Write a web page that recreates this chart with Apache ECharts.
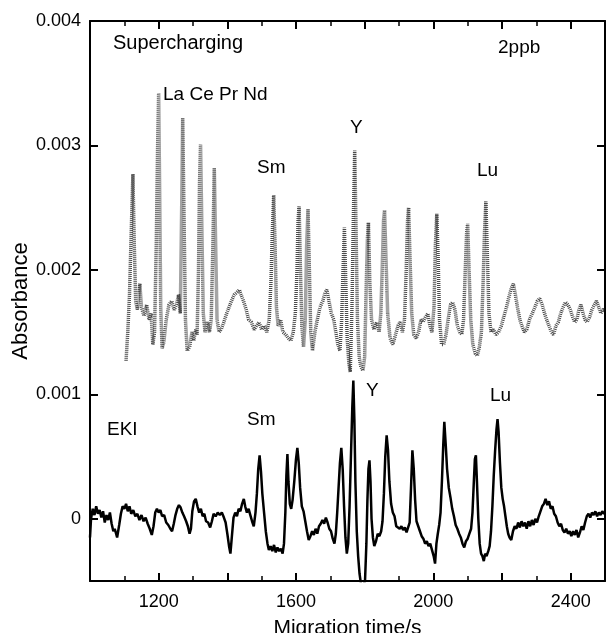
<!DOCTYPE html>
<html>
<head>
<meta charset="utf-8">
<script src="https://cdn.jsdelivr.net/npm/echarts@6/dist/echarts.min.js"></script>
<style>
html,body{margin:0;padding:0;background:#fff;}
#chart{width:610px;height:633px;}
</style>
</head>
<body>
<div id="chart"></div>
<script>
// Supercharging trace (migration time / s, absorbance)
const scTime = [1105,1110,1115,1120,1125,1129,1133,1138,1145,1150,1157,1165,1172,1178,1183,1188,1193,1197,1200,1203,1206,1210,1215,1222,1230,1238,1245,1252,1258,1263,1267,1270,1274,1278,1283,1290,1297,1302,1308,1312,1316,1319,1322,1326,1330,1335,1342,1348,1353,1358,1362,1366,1370,1376,1382,1390,1398,1405,1412,1420,1428,1435,1440,1447,1455,1462,1470,1478,1485,1492,1500,1508,1515,1522,1527,1531,1535,1539,1543,1548,1555,1562,1570,1578,1585,1592,1598,1603,1606,1609,1613,1617,1622,1627,1631,1635,1639,1643,1648,1655,1662,1670,1678,1685,1690,1696,1703,1710,1716,1722,1728,1733,1737,1741,1745,1749,1754,1758,1763,1767,1771,1775,1779,1784,1789,1795,1800,1804,1808,1811,1815,1820,1827,1835,1842,1847,1851,1855,1858,1862,1867,1874,1882,1890,1897,1903,1910,1916,1921,1925,1928,1932,1937,1943,1950,1957,1964,1970,1977,1984,1990,1996,2002,2006,2010,2014,2018,2024,2030,2037,2043,2050,2056,2063,2070,2077,2083,2088,2093,2097,2100,2104,2109,2115,2122,2128,2134,2140,2145,2149,2153,2157,2162,2168,2175,2182,2190,2198,2205,2213,2220,2227,2233,2239,2245,2252,2258,2265,2272,2280,2288,2296,2303,2310,2317,2324,2330,2337,2344,2350,2357,2364,2371,2378,2385,2392,2399,2406,2412,2418,2424,2430,2436,2442,2448,2455,2462,2469,2475,2482,2488,2494,2500];
const scAbs = [0.00127,0.00150,0.00180,0.00230,0.00277,0.00220,0.00175,0.00168,0.00189,0.00170,0.00163,0.00172,0.00160,0.00165,0.00140,0.00150,0.00220,0.00300,0.00342,0.00260,0.00170,0.00137,0.00142,0.00160,0.00172,0.00175,0.00168,0.00172,0.00180,0.00165,0.00250,0.00322,0.00240,0.00160,0.00135,0.00138,0.00150,0.00143,0.00152,0.00148,0.00200,0.00270,0.00301,0.00230,0.00165,0.00150,0.00158,0.00150,0.00160,0.00220,0.00282,0.00220,0.00160,0.00150,0.00152,0.00158,0.00165,0.00170,0.00175,0.00180,0.00182,0.00184,0.00180,0.00175,0.00168,0.00160,0.00158,0.00152,0.00155,0.00158,0.00152,0.00155,0.00150,0.00160,0.00190,0.00230,0.00260,0.00220,0.00170,0.00155,0.00160,0.00150,0.00148,0.00145,0.00143,0.00150,0.00165,0.00200,0.00240,0.00251,0.00200,0.00155,0.00138,0.00160,0.00220,0.00249,0.00200,0.00150,0.00135,0.00150,0.00160,0.00170,0.00175,0.00182,0.00184,0.00175,0.00165,0.00160,0.00150,0.00140,0.00135,0.00160,0.00200,0.00234,0.00190,0.00145,0.00125,0.00118,0.00170,0.00240,0.00296,0.00230,0.00160,0.00130,0.00122,0.00119,0.00130,0.00180,0.00225,0.00238,0.00190,0.00160,0.00152,0.00158,0.00150,0.00165,0.00200,0.00240,0.00248,0.00210,0.00165,0.00145,0.00140,0.00148,0.00155,0.00158,0.00150,0.00160,0.00200,0.00240,0.00250,0.00210,0.00165,0.00148,0.00145,0.00150,0.00160,0.00158,0.00162,0.00165,0.00155,0.00150,0.00170,0.00220,0.00245,0.00210,0.00160,0.00140,0.00140,0.00148,0.00160,0.00172,0.00174,0.00168,0.00155,0.00150,0.00148,0.00160,0.00200,0.00230,0.00237,0.00200,0.00160,0.00140,0.00133,0.00131,0.00138,0.00150,0.00190,0.00230,0.00255,0.00215,0.00165,0.00150,0.00152,0.00148,0.00150,0.00155,0.00162,0.00170,0.00178,0.00185,0.00189,0.00180,0.00170,0.00160,0.00155,0.00150,0.00152,0.00160,0.00165,0.00170,0.00175,0.00177,0.00172,0.00165,0.00160,0.00155,0.00150,0.00148,0.00155,0.00158,0.00165,0.00170,0.00174,0.00172,0.00168,0.00162,0.00158,0.00160,0.00168,0.00172,0.00165,0.00160,0.00158,0.00162,0.00168,0.00172,0.00175,0.00170,0.00165,0.00168,0.00168];

// EKI trace
const ekiTime = [1000,1003,1008,1013,1018,1023,1028,1033,1038,1043,1048,1053,1058,1063,1068,1072,1079,1085,1090,1095,1100,1105,1110,1115,1120,1126,1132,1138,1144,1150,1156,1162,1168,1174,1180,1185,1190,1195,1200,1205,1210,1216,1222,1228,1234,1239,1244,1249,1254,1259,1264,1269,1274,1280,1285,1290,1294,1298,1303,1308,1313,1318,1323,1328,1333,1338,1344,1350,1355,1360,1366,1372,1378,1384,1390,1395,1400,1405,1409,1413,1418,1423,1428,1433,1438,1443,1448,1452,1457,1462,1467,1472,1477,1482,1486,1490,1494,1498,1502,1507,1512,1517,1521,1526,1531,1536,1541,1546,1551,1556,1561,1565,1569,1572,1575,1578,1582,1586,1590,1595,1600,1604,1608,1612,1617,1622,1627,1632,1637,1642,1647,1652,1657,1662,1667,1672,1677,1682,1687,1692,1697,1702,1707,1712,1716,1720,1724,1728,1732,1736,1740,1744,1748,1752,1756,1760,1764,1767,1770,1773,1777,1781,1785,1789,1793,1797,1801,1805,1808,1811,1814,1817,1820,1824,1828,1833,1838,1843,1848,1852,1856,1860,1864,1868,1872,1877,1882,1887,1892,1897,1902,1907,1912,1917,1922,1927,1931,1935,1939,1943,1947,1951,1956,1961,1966,1971,1976,1981,1986,1991,1996,2001,2005,2009,2013,2017,2021,2025,2029,2032,2036,2040,2045,2050,2055,2060,2065,2070,2075,2080,2085,2090,2095,2100,2105,2110,2114,2118,2121,2124,2127,2131,2135,2139,2143,2147,2151,2155,2160,2164,2168,2172,2176,2180,2184,2187,2190,2194,2198,2202,2206,2210,2214,2218,2222,2227,2232,2237,2242,2247,2252,2257,2262,2267,2272,2277,2282,2287,2292,2297,2302,2307,2312,2317,2322,2327,2332,2337,2342,2347,2352,2357,2362,2367,2372,2377,2382,2387,2392,2397,2402,2407,2412,2417,2422,2427,2432,2437,2442,2447,2452,2457,2462,2467,2472,2477,2482,2487,2492,2497,2500];
const ekiAbs = [-0.00015,0.00000,0.00008,0.00003,0.00010,0.00004,0.00007,0.00001,0.00006,-0.00003,0.00003,-0.00001,0.00005,-0.00004,-0.00010,-0.00008,-0.00015,-0.00005,0.00004,0.00010,0.00008,0.00012,0.00006,0.00010,0.00004,0.00007,0.00002,0.00004,-0.00001,0.00003,-0.00002,0.00001,-0.00004,-0.00008,-0.00013,-0.00006,0.00005,0.00008,0.00005,0.00007,0.00002,0.00003,-0.00003,-0.00005,-0.00008,-0.00010,-0.00004,0.00003,0.00008,0.00011,0.00009,0.00005,0.00002,-0.00002,-0.00006,-0.00012,-0.00008,0.00006,0.00014,0.00016,0.00010,0.00005,0.00008,0.00002,0.00004,-0.00002,-0.00003,-0.00007,-0.00002,0.00004,0.00002,0.00005,0.00003,0.00005,0.00001,-0.00003,-0.00012,-0.00022,-0.00028,-0.00015,0.00001,0.00005,0.00002,0.00008,0.00006,0.00012,0.00016,0.00010,0.00005,0.00008,0.00003,-0.00002,-0.00006,0.00005,0.00020,0.00040,0.00051,0.00038,0.00020,0.00005,-0.00010,-0.00020,-0.00025,-0.00022,-0.00026,-0.00021,-0.00027,-0.00023,-0.00026,-0.00024,-0.00028,-0.00020,0.00005,0.00035,0.00052,0.00030,0.00012,0.00008,0.00015,0.00030,0.00048,0.00057,0.00045,0.00025,0.00010,0.00006,-0.00002,-0.00010,-0.00017,-0.00014,-0.00010,-0.00013,-0.00008,-0.00012,-0.00006,-0.00004,-0.00001,-0.00004,0.00001,-0.00003,-0.00008,-0.00010,-0.00016,-0.00020,-0.00012,0.00005,0.00025,0.00045,0.00057,0.00040,0.00010,-0.00015,-0.00028,-0.00020,0.00010,0.00050,0.00090,0.00111,0.00080,0.00030,-0.00010,-0.00030,-0.00044,-0.00052,-0.00056,-0.00056,-0.00050,-0.00020,0.00015,0.00040,0.00047,0.00030,0.00000,-0.00015,-0.00022,-0.00018,-0.00012,-0.00014,-0.00010,-0.00002,0.00020,0.00050,0.00067,0.00055,0.00030,0.00012,0.00005,0.00002,-0.00006,-0.00005,-0.00008,-0.00006,-0.00009,-0.00007,-0.00011,-0.00012,-0.00003,0.00025,0.00055,0.00040,0.00015,-0.00002,-0.00006,-0.00010,-0.00014,-0.00016,-0.00020,-0.00018,-0.00022,-0.00020,-0.00025,-0.00030,-0.00036,-0.00020,-0.00012,-0.00005,0.00005,0.00030,0.00060,0.00078,0.00060,0.00040,0.00025,0.00017,0.00008,0.00002,-0.00005,-0.00008,-0.00012,-0.00015,-0.00020,-0.00023,-0.00018,-0.00016,-0.00012,-0.00008,0.00005,0.00030,0.00048,0.00051,0.00030,0.00000,-0.00020,-0.00028,-0.00030,-0.00034,-0.00028,-0.00030,-0.00026,-0.00022,-0.00010,0.00010,0.00035,0.00055,0.00072,0.00080,0.00070,0.00045,0.00025,0.00016,0.00010,0.00002,-0.00006,-0.00012,-0.00015,-0.00017,-0.00010,-0.00006,-0.00008,-0.00003,-0.00007,-0.00002,-0.00006,-0.00003,-0.00008,-0.00002,-0.00006,-0.00001,-0.00005,0.00000,-0.00003,0.00002,0.00006,0.00010,0.00012,0.00016,0.00011,0.00014,0.00008,0.00010,0.00004,0.00002,-0.00003,-0.00006,-0.00004,-0.00009,-0.00011,-0.00008,-0.00012,-0.00010,-0.00014,-0.00010,-0.00013,-0.00009,-0.00015,-0.00011,-0.00006,-0.00009,-0.00003,0.00002,0.00004,0.00001,0.00005,0.00003,0.00006,0.00002,0.00005,0.00003,0.00006,0.00004,0.00005];

const xTickLabels = [1200, 1600, 2000, 2400];
const yTickLabels = [0, 0.001, 0.002, 0.003, 0.004];

const scData = scTime.map((t, i) => [t, scAbs[i]]);
const ekiData = ekiTime.map((t, i) => [t, ekiAbs[i]]);

const FONT = 'Liberation Sans, Arial, sans-serif';
const chart = echarts.init(document.getElementById('chart'), null, {renderer: 'canvas'});

function txt(s, left, cy, size) {
  return {type: 'text', left: left, top: cy - size * 0.6,
    style: {text: s, fill: '#000', font: size + 'px ' + FONT}};
}

const tickStyle = {show: true, inside: true, length: 8, lineStyle: {color: '#000', width: 2}};
const minorStyle = {show: true, splitNumber: 2, length: 5, lineStyle: {color: '#000', width: 1.5}};

chart.setOption({
  animation: false,
  backgroundColor: '#fff',
  grid: {left: 90, right: 5, top: 21, bottom: 52, containLabel: false, outerBoundsMode: 'none'},
  xAxis: [{
    type: 'value', min: 1000, max: 2500, interval: 200,
    name: 'Migration time/s', nameLocation: 'middle', nameGap: 37,
    nameTextStyle: {fontFamily: FONT, fontSize: 21, color: '#000'},
    axisLine: {onZero: false, lineStyle: {color: '#000', width: 2}},
    axisTick: tickStyle,
    minorTick: minorStyle,
    splitLine: {show: false},
    axisLabel: {margin: 12, fontFamily: FONT, fontSize: 18, color: '#000',
      formatter: v => xTickLabels.includes(v) ? String(v) : ''}
  }, {
    type: 'value', position: 'top', min: 1000, max: 2500, interval: 200,
    axisLine: {onZero: false, lineStyle: {color: '#000', width: 2}},
    axisTick: tickStyle,
    minorTick: minorStyle,
    splitLine: {show: false}, axisLabel: {show: false}
  }],
  yAxis: [{
    type: 'value', min: -0.0005, max: 0.004, splitNumber: 5,
    name: 'Absorbance', nameLocation: 'middle', nameGap: 58, nameMoveOverlap: false,
    nameTextStyle: {fontFamily: FONT, fontSize: 22, color: '#000'},
    axisLine: {show: true, onZero: false, lineStyle: {color: '#000', width: 2}},
    axisTick: tickStyle,
    splitLine: {show: false},
    axisLabel: {margin: 9, fontFamily: FONT, fontSize: 18, color: '#000',
      formatter: v => {
        const m = yTickLabels.find(y => Math.abs(y - v) < 1e-9);
        return m === undefined ? '' : (m === 0 ? '0' : m.toFixed(3));
      }}
  }, {
    type: 'value', position: 'right', min: -0.0005, max: 0.004, splitNumber: 5,
    axisLine: {show: true, onZero: false, lineStyle: {color: '#000', width: 2}},
    axisTick: tickStyle,
    splitLine: {show: false}, axisLabel: {show: false}
  }],
  series: [{
    name: 'Supercharging', type: 'line', data: scData, xAxisIndex: 0, yAxisIndex: 0,
    showSymbol: false, smooth: false,
    lineStyle: {color: '#4a4a4a', width: 3.5, type: [1, 1]}
  }, {
    name: 'EKI', type: 'line', data: ekiData, xAxisIndex: 0, yAxisIndex: 0,
    showSymbol: false, smooth: false,
    lineStyle: {color: '#000', width: 2.5}
  }],
  graphic: [
    txt('Supercharging', 113, 45, 20),
    txt('2ppb', 498, 50, 19),
    txt('La Ce Pr Nd', 163, 97, 19),
    txt('Y', 350, 130, 19),
    txt('Sm', 257, 170, 19),
    txt('Lu', 477, 173, 19),
    txt('Y', 366, 393, 19),
    txt('Lu', 490, 398, 19),
    txt('Sm', 247, 422, 19),
    txt('EKI', 107, 432, 19)
  ]
});
</script>
</body>
</html>
